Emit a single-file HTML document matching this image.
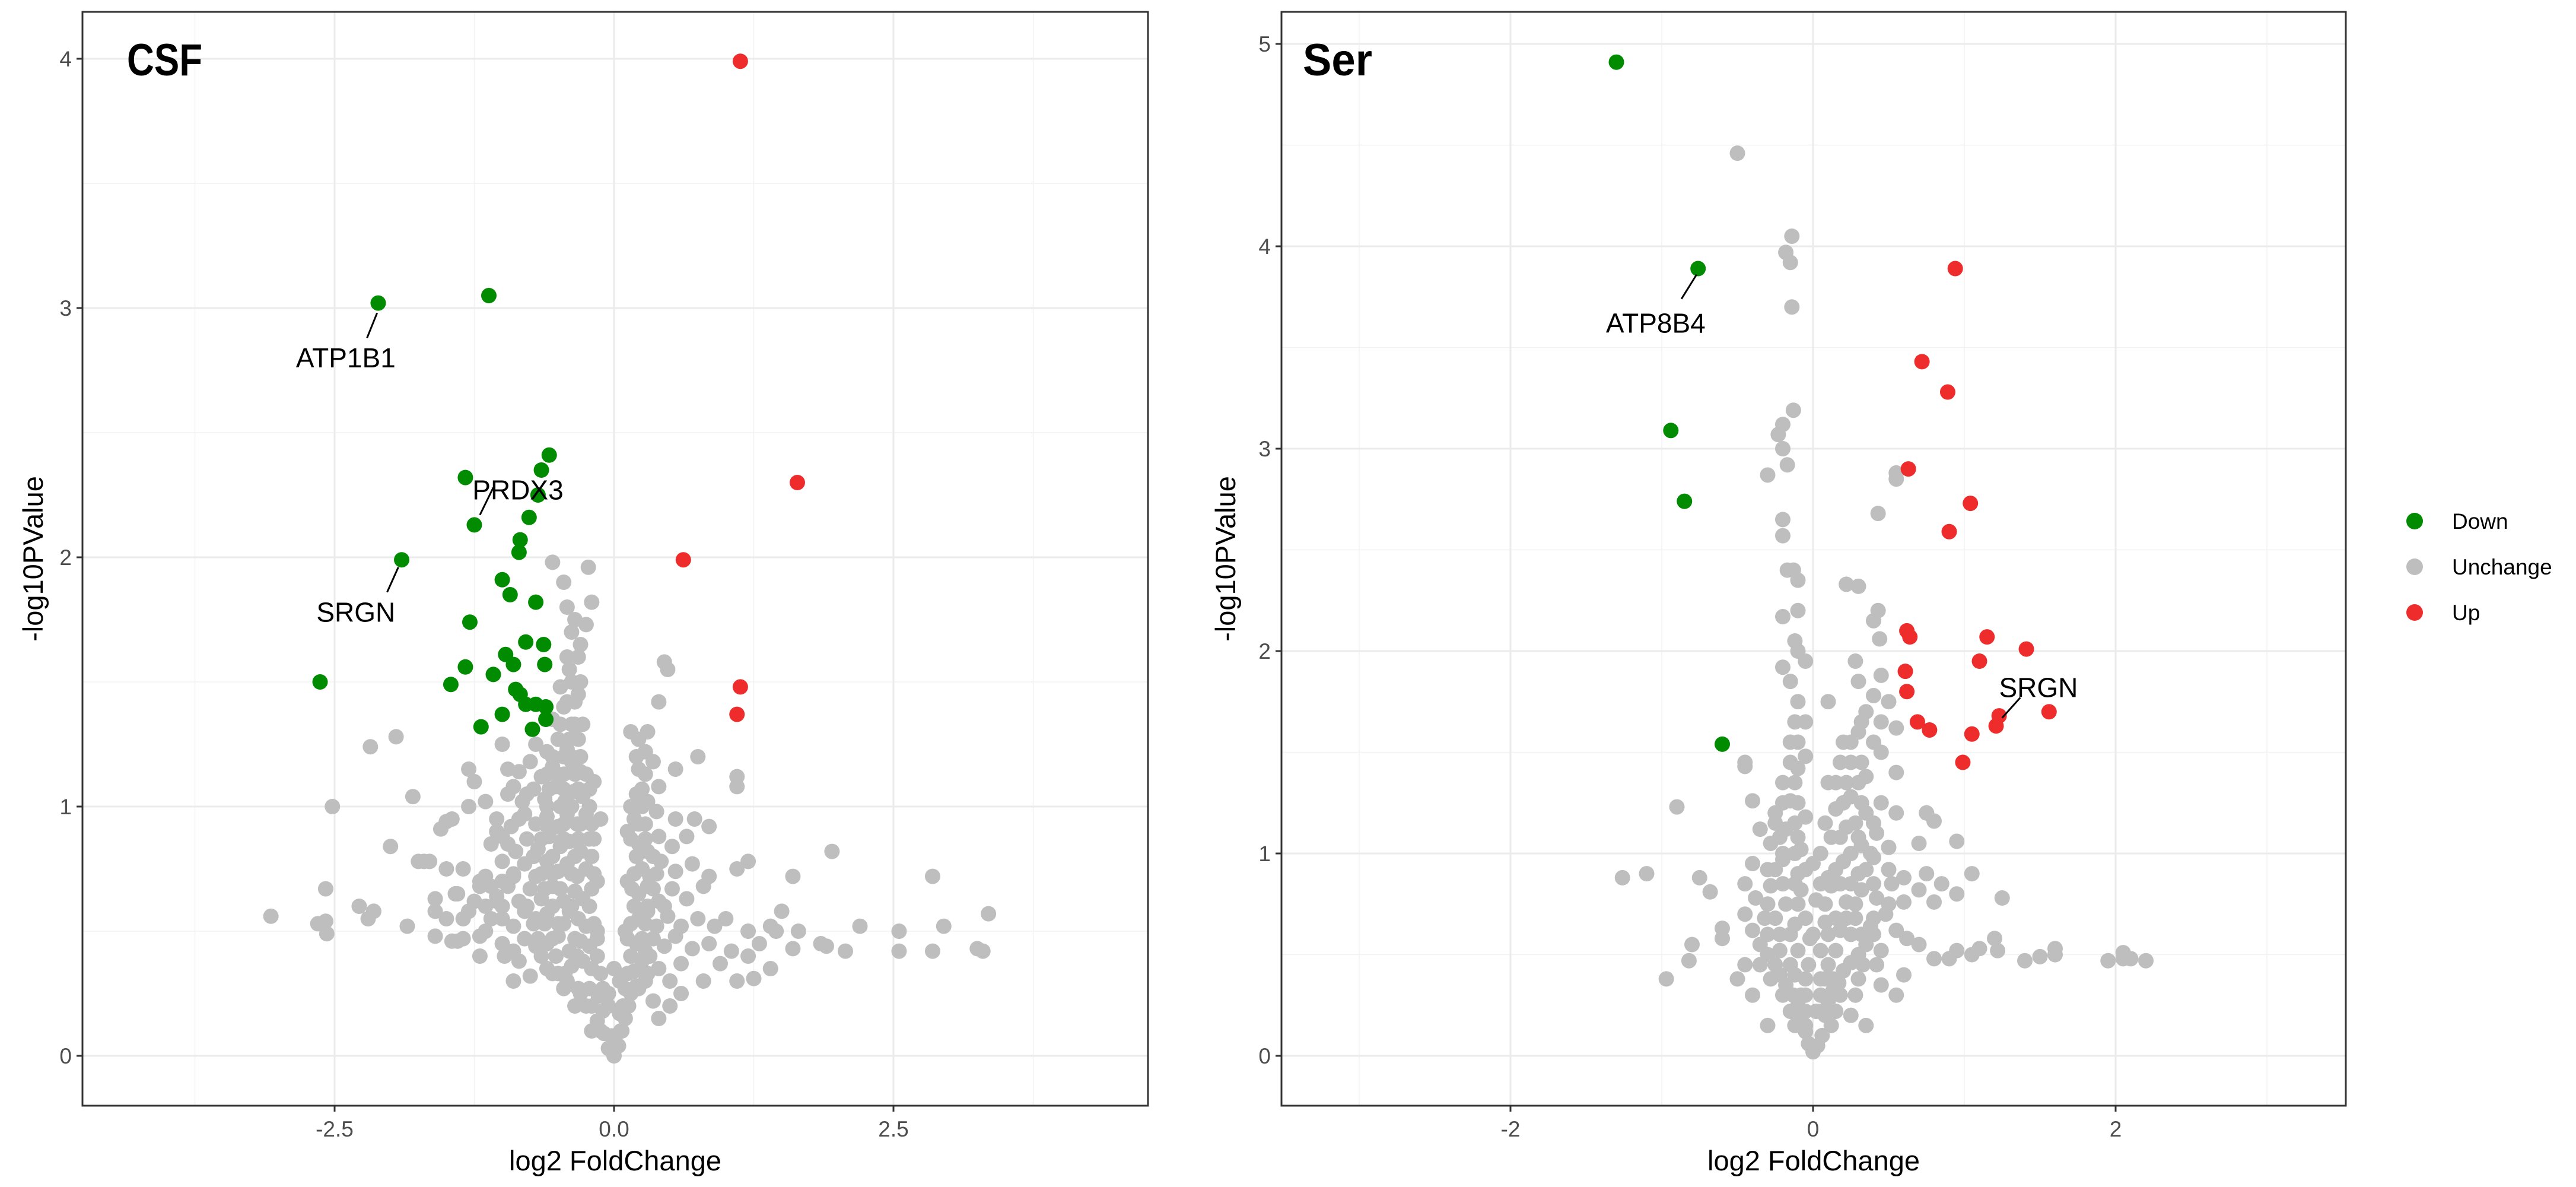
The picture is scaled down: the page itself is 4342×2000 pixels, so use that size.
<!DOCTYPE html>
<html><head><meta charset="utf-8"><style>
html,body{margin:0;padding:0;background:#fff}
svg{display:block;font-family:"Liberation Sans",Arial,sans-serif}
</style></head><body>
<svg id="chart" width="4342" height="2000" viewBox="0 0 4342 2000" xmlns="http://www.w3.org/2000/svg"></svg>
<script>
// ---------- CSF panel data ----------
const csfDown = [[-2.11,3.02],[-1.12,3.05],[-1.90,1.99],[-2.63,1.50],[-0.58,2.41],[-1.33,2.32],[-0.65,2.35],[-0.68,2.25],[-1.25,2.13],[-0.76,2.16],[-0.84,2.07],[-0.85,2.02],[-1.00,1.91],[-0.93,1.85],[-0.70,1.82],[-1.29,1.74],[-0.79,1.66],[-0.63,1.65],[-0.97,1.61],[-0.90,1.57],[-0.62,1.57],[-1.33,1.56],[-1.08,1.53],[-1.46,1.49],[-0.88,1.47],[-0.84,1.45],[-0.79,1.41],[-0.70,1.41],[-0.61,1.40],[-1.00,1.37],[-1.19,1.32],[-0.61,1.35],[-0.73,1.31]];
const csfUp = [[1.13,3.99],[1.64,2.30],[0.62,1.99],[1.13,1.48],[1.10,1.37]];
const csfGray = [
[-3.07,0.56],[-2.65,0.53],[-2.58,0.54],[-2.57,0.49],[-2.58,0.67],[-2.52,1.00],[-2.28,0.60],[-2.2,0.55],[-2.15,0.58],[-2.18,1.24],[-2.0,0.84],[-1.95,1.28],[-1.8,1.04],[-1.85,0.52],[-1.75,0.78],[-1.65,0.78],[-1.6,0.58],[-1.55,0.91],[-1.5,0.94],[-1.5,0.75],[-1.6,0.48],[-1.45,0.95],[-1.42,0.65],[-1.4,0.46],[-1.35,0.55],[-1.3,0.58],[-1.3,1.0],[-1.3,1.15],[-1.25,1.1],[-1.2,0.4],[-1.2,0.7],[-1.15,1.02],[-1.1,0.68],[-1.05,0.62],[-1.05,0.9],[-1.0,1.25],[-1.0,0.55],[-0.95,1.15],[-0.95,0.85],[-0.9,0.3],[-0.9,0.72],[-0.9,1.08],
[-0.05,0.03],[0,0.0],[0.04,0.04],[-0.02,0.08],[0.07,0.1],[-0.09,0.09],
[-0.15,0.14],[-0.1,0.18],[0.1,0.15],[0.13,0.2],[-0.2,0.2],[0.05,0.17],
[-0.3,0.25],[-0.22,0.27],[-0.14,0.24],[0.15,0.25],[0.2,0.28],[0.28,0.3],[-0.42,0.3],[0.35,0.22],
[-0.6,0.35],[-0.5,0.33],[-0.38,0.36],[-0.28,0.38],[-0.2,0.35],[0.18,0.34],[0.25,0.38],[0.4,0.35],[0.5,0.3],[0.6,0.37],[-0.75,0.32],[-0.85,0.38],
[-1.0,0.45],[-0.9,0.42],[-0.8,0.47],[-0.7,0.44],[-0.6,0.45],[-0.5,0.48],[-0.4,0.42],[-0.3,0.46],[-0.22,0.44],[0.2,0.45],[0.28,0.42],[0.35,0.47],[0.45,0.44],[0.55,0.48],[0.7,0.43],[0.85,0.45],[1.05,0.42],[-1.2,0.48],[-1.35,0.47],[-1.45,0.46],
[-1.5,0.55],[-1.3,0.58],[-1.1,0.55],[-1.0,0.6],[-0.9,0.52],[-0.8,0.58],[-0.7,0.55],[-0.6,0.57],[-0.5,0.53],[-0.4,0.58],[-0.32,0.55],[-0.25,0.52],[0.22,0.55],[0.3,0.58],[0.38,0.52],[0.48,0.56],[0.6,0.52],[0.75,0.55],[0.9,0.52],[1.0,0.55],[1.2,0.5],[1.4,0.52],
[-1.6,0.63],[-1.4,0.65],[-1.2,0.68],[-1.05,0.64],[-0.95,0.68],[-0.85,0.62],[-0.75,0.67],[-0.65,0.63],[-0.55,0.68],[-0.45,0.62],[-0.35,0.66],[-0.28,0.63],[0.22,0.65],[0.3,0.68],[0.4,0.62],[0.52,0.67],[0.65,0.63],[0.8,0.68],
[-1.7,0.78],[-1.35,0.75],[-1.15,0.72],[-1.0,0.78],[-0.9,0.73],[-0.8,0.77],[-0.7,0.72],[-0.6,0.78],[-0.5,0.74],[-0.42,0.77],[-0.33,0.72],[-0.25,0.75],[0.25,0.75],[0.32,0.72],[0.42,0.78],[0.55,0.74],[0.7,0.77],[0.85,0.72],
[-1.0,0.88],[-0.88,0.82],[-0.78,0.87],[-0.68,0.83],[-0.58,0.88],[-0.48,0.84],[-0.4,0.86],[-0.3,0.82],[-0.22,0.87],[0.22,0.85],[0.3,0.82],[0.4,0.88],[0.52,0.84],[0.65,0.88],
[-1.05,0.95],[-0.92,0.92],[-0.8,0.97],[-0.7,0.93],[-0.6,0.96],[-0.5,0.92],[-0.42,0.97],[-0.33,0.93],[-0.25,0.97],[0.18,0.95],[0.28,0.93],[0.38,0.98],[0.55,0.95],[0.72,0.95],
[-0.95,1.05],[-0.82,1.02],[-0.72,1.07],[-0.62,1.03],[-0.52,1.08],[-0.44,1.02],[-0.36,1.06],[-0.28,1.04],[0.2,1.05],[0.3,1.02],[0.4,1.08],
[-0.85,1.14],[-0.75,1.18],[-0.65,1.12],[-0.55,1.16],[-0.45,1.13],[-0.38,1.18],[-0.3,1.14],[0.22,1.15],[0.35,1.18],[0.55,1.15],
[-0.7,1.25],[-0.6,1.22],[-0.5,1.27],[-0.42,1.23],[-0.35,1.28],[0.15,1.3],[0.28,1.22],
[-0.55,1.35],[-0.45,1.4],[-0.38,1.33],[-0.32,1.45],[-0.48,1.48],[0.4,1.42],
[-0.4,1.55],[-0.32,1.6],[-0.38,1.7],[-0.35,1.75],[-0.42,1.8],[-0.25,1.73],[-0.2,1.82],[-0.55,1.98],[-0.45,1.9],[-0.23,1.96],[-0.3,1.65],[-0.42,1.6],[0.45,1.58],[0.48,1.55],
[1.1,1.12],[1.1,1.08],[0.85,0.92],[1.2,0.78],[1.1,0.75],[1.95,0.82],[1.6,0.72],[2.85,0.72],[2.2,0.52],[2.55,0.5],[2.55,0.42],[2.95,0.52],[2.85,0.42],[3.35,0.57],[3.3,0.42],[3.25,0.43],[1.85,0.45],[1.9,0.44],[2.07,0.42],[1.6,0.43],[1.45,0.5],[1.3,0.45],[1.2,0.4],[1.1,0.3],[1.25,0.31],[1.4,0.35],[0.95,0.37],[0.8,0.3],[0.6,0.25],[0.5,0.2],[0.4,0.15],[1.5,0.58],[1.65,0.5],[0.75,1.2],[0.3,1.3],[0.1,0.5],[0.12,0.7],[0.12,0.9],[-0.15,0.5],[-0.15,0.7],[-0.12,0.95],[-0.18,1.1],[0,0.35],[-0.05,0.25],[0.05,0.3]
];
const csfGrayCore = [
[-0.35,0.2],[-0.25,0.2],[-0.05,0.2],[0.08,0.2],
[-0.45,0.27],[-0.32,0.27],[-0.1,0.27],[0.1,0.27],[0.22,0.27],
[-0.55,0.33],[-0.44,0.33],[-0.12,0.33],[0.12,0.33],[0.3,0.33],
[-0.65,0.4],[-0.52,0.4],[-0.33,0.4],[-0.15,0.4],[0.15,0.4],[0.32,0.4],
[-0.68,0.47],[-0.55,0.47],[-0.35,0.47],[-0.15,0.47],[0.12,0.47],[0.25,0.47],
[-0.72,0.53],[-0.62,0.53],[-0.45,0.53],[-0.18,0.53],[0.15,0.53],[0.28,0.53],
[-0.78,0.6],[-0.55,0.6],[-0.38,0.6],[-0.22,0.6],[0.18,0.6],[0.3,0.6],[0.45,0.6],
[-0.62,0.67],[-0.48,0.67],[-0.2,0.67],[0.16,0.67],[0.35,0.67],
[-0.65,0.73],[-0.55,0.73],[-0.38,0.73],[-0.18,0.73],[0.18,0.73],[0.38,0.73],
[-0.72,0.8],[-0.55,0.8],[-0.35,0.8],[-0.2,0.8],[0.2,0.8],[0.35,0.8],
[-0.65,0.87],[-0.45,0.87],[-0.32,0.87],[-0.18,0.87],[0.15,0.87],[0.28,0.87],
[-0.62,0.93],[-0.45,0.93],[-0.3,0.93],[-0.2,0.93],[0.22,0.93],
[-0.6,1.0],[-0.48,1.0],[-0.38,1.0],[-0.22,1.0],[0.15,1.0],[0.25,1.0],
[-0.58,1.07],[-0.45,1.07],[-0.32,1.07],[-0.22,1.07],[0.25,1.07],
[-0.6,1.13],[-0.5,1.13],[-0.35,1.13],[-0.25,1.13],[0.28,1.13],
[-0.55,1.2],[-0.45,1.2],[-0.38,1.2],[-0.3,1.2],[0.2,1.2],
[-0.5,1.27],[-0.4,1.27],[-0.32,1.27],[0.22,1.27],
[-0.48,1.33],[-0.35,1.33],[-0.28,1.33],
[-0.42,1.42],[-0.35,1.42],[-0.38,1.5],[-0.3,1.5],
[-0.12,0.1],[0.06,0.1],[-0.2,0.1],[0.02,0.05],
[-1.25,0.62],[-1.15,0.5],[-1.1,0.85],[-0.98,0.4],[-1.0,0.7],[-1.15,0.6],[-0.85,0.95],[-0.78,1.05]
];
const csfLabels = [["ATP1B1",-2.40,2.80,-2.21,2.88,-2.12,2.98],["PRDX3",-0.86,2.27,-1.20,2.17,-1.08,2.28],["SRGN",-2.31,1.78,-2.03,1.86,-1.93,1.96]];
const csfXTicks = [-2.5,0,2.5];
const csfXTickLabels = ["-2.5","0.0","2.5"];
const csfYTicks = [0,1,2,3,4];

// ---------- Ser panel data ----------
const serDown = [[-1.30,4.91],[-0.76,3.89],[-0.94,3.09],[-0.85,2.74],[-0.60,1.54]];
const serUp = [[0.94,3.89],[0.72,3.43],[0.89,3.28],[0.63,2.90],[1.04,2.73],[0.90,2.59],[0.62,2.10],[0.64,2.07],[1.15,2.07],[1.41,2.01],[1.10,1.95],[0.61,1.90],[0.62,1.80],[1.56,1.70],[1.23,1.68],[1.21,1.63],[0.69,1.65],[0.77,1.61],[1.05,1.59],[0.99,1.45]];
const serGray = [
[0,0.02],[-0.03,0.06],[0.03,0.05],[-0.05,0.12],[0.06,0.1],[-0.08,0.18],[0.08,0.2],[-0.1,0.25],[0.1,0.27],[-0.13,0.3],[0.13,0.32],[-0.18,0.35],[0.17,0.36],[-0.22,0.4],[0.2,0.42],[-0.25,0.45],[0.25,0.46],[-0.3,0.5],[0.3,0.5],[-0.35,0.55],[0.35,0.55],[-0.4,0.62],[0.4,0.6],[-0.12,0.4],[0.08,0.38],[-0.05,0.3],[0.02,0.22],
[-0.32,0.68],[-0.22,0.6],[-0.12,0.65],[-0.02,0.58],[0.08,0.66],[0.18,0.62],[0.28,0.68],[0.38,0.64],[0.48,0.7],[0.55,0.62],[-0.45,0.7],[0.62,0.58],
[-0.38,0.78],[-0.28,0.84],[-0.18,0.75],[-0.08,0.82],[0.02,0.77],[0.12,0.84],[0.22,0.76],[0.32,0.82],[0.42,0.78],[0.52,0.85],[0.6,0.76],[0.7,0.82],[-0.45,0.85],
[-0.3,0.92],[-0.2,0.97],[-0.1,0.9],[0.0,0.95],[0.1,0.88],[0.2,0.96],[0.3,0.9],[0.4,0.98],[0.5,0.92],[0.6,0.88],[0.75,0.9],[0.85,0.85],[-0.4,0.95],
[-0.28,1.05],[-0.18,1.12],[-0.08,1.02],[0.12,1.08],[0.22,1.13],[0.32,1.04],[0.42,1.1],[0.5,1.03],[-0.35,1.12],
[-0.25,1.2],[-0.15,1.26],[-0.05,1.18],[0.15,1.22],[0.25,1.28],[0.35,1.2],[0.45,1.25],[0.55,1.2],[0.75,1.2],
[-0.2,1.35],[-0.1,1.42],[-0.05,1.48],[0.15,1.35],[0.25,1.45],[0.35,1.38],[0.45,1.5],[0.55,1.4],[-0.45,1.45],
[-0.15,1.55],[-0.05,1.65],[-0.1,1.75],[-0.15,1.85],[-0.05,1.95],[-0.2,1.92],[0.2,1.55],[0.3,1.6],[0.35,1.7],[0.4,1.78],[0.3,1.85],[0.45,1.88],[0.28,1.95],[0.5,1.75],[0.55,1.62],[0.1,1.75],[-0.1,2.0],[-0.12,2.05],
[-0.1,2.2],[-0.2,2.17],[-0.1,2.35],[-0.13,2.4],[-0.17,2.4],[0.22,2.33],[0.3,2.32],[0.43,2.2],[0.4,2.15],[0.44,2.06],[-0.2,2.57],[-0.2,2.65],[-0.3,2.87],[-0.17,2.92],[-0.2,3.0],[-0.23,3.07],[-0.2,3.12],[-0.13,3.19],[0.55,2.88],[0.55,2.85],[0.43,2.68],[-0.14,3.7],[-0.15,3.92],[-0.18,3.97],[-0.14,4.05],[-0.5,4.46],
[-1.26,0.88],[-1.1,0.9],[-0.75,0.88],[-0.68,0.81],[-0.9,1.23],[-0.97,0.38],[-0.82,0.47],[-0.8,0.55],[-0.6,0.58],[-0.6,0.63],[-0.45,1.43],[-0.4,1.26],[0.7,1.05],[0.75,1.2],[0.8,1.16],[0.95,1.06],[1.05,0.9],[0.95,0.8],[0.8,0.76],[1.25,0.78],[1.2,0.58],[1.22,0.52],[0.8,0.48],[0.9,0.48],[0.95,0.52],[1.05,0.5],[1.1,0.53],[1.4,0.47],[1.5,0.49],[1.6,0.53],[1.6,0.5],[1.95,0.47],[2.05,0.51],[2.1,0.48],[2.2,0.47],[2.05,0.48],[0.7,0.55],[0.6,0.4],[0.45,0.35],[0.55,0.3],[-0.5,0.38],[-0.45,0.45],[-0.3,0.15],[0.35,0.15],[0.25,0.2],[-0.4,0.3]
];
const serGrayCore = [
[-0.12,0.15],[0.12,0.15],[-0.05,0.15],
[-0.15,0.22],[0.15,0.22],[-0.05,0.22],[0.05,0.22],
[-0.2,0.3],[-0.08,0.3],[0.05,0.3],[0.18,0.3],[0.28,0.3],
[-0.28,0.38],[-0.05,0.38],[0.05,0.38],[0.13,0.38],[0.3,0.38],
[-0.35,0.45],[-0.15,0.45],[-0.03,0.45],[0.1,0.45],[0.33,0.45],[0.42,0.45],
[-0.22,0.52],[-0.1,0.52],[0.05,0.52],[0.15,0.52],[0.45,0.52],
[-0.3,0.6],[-0.15,0.6],[0.0,0.6],[0.1,0.6],[0.25,0.6],[0.32,0.6],
[-0.25,0.68],[-0.05,0.68],[0.15,0.68],[0.22,0.68],[0.4,0.68],
[-0.3,0.75],[-0.1,0.75],[0.08,0.75],[0.28,0.75],[0.5,0.75],
[-0.2,0.85],[-0.12,0.85],[0.05,0.85],[0.18,0.85],[0.25,0.85],[0.4,0.85],
[-0.25,0.92],[-0.05,0.92],[0.15,0.92],[0.35,0.92],
[-0.2,1.0],[-0.12,1.0],[0.05,1.0],[0.25,1.0],[0.38,1.0],
[-0.22,1.08],[-0.1,1.08],[0.18,1.08],[0.3,1.08],
[-0.25,1.15],[-0.12,1.15],[0.08,1.15],[0.28,1.15],[0.4,1.15],
[-0.2,1.25],[-0.1,1.25],[0.2,1.25],[0.32,1.25],
[-0.12,1.35],[0.1,1.35],[0.22,1.35],[0.3,1.35],
[-0.15,1.45],[0.18,1.45],[0.32,1.45],
[-0.1,1.55],[0.25,1.55],[0.4,1.55],
[-0.12,1.65],[0.32,1.65],[0.45,1.65]
];
const serLabels = [["ATP8B4",-1.04,3.62,-0.87,3.74,-0.77,3.86],["SRGN",1.49,1.82,1.37,1.77,1.25,1.67]];
const serXTicks = [-2,0,2];
const serXTickLabels = ["-2","0","2"];
const serYTicks = [0,1,2,3,4,5];

const legendKeys = ["Down","Unchange","Up"];
const COL = {Down:"#008B00",Unchange:"#BEBEBE",Up:"#EE2C2C"};
const NS = "http://www.w3.org/2000/svg";
const svg = document.getElementById('chart');
function mk(tag, attrs, parent){const e=document.createElementNS(NS,tag);for(const k in attrs)e.setAttribute(k,attrs[k]);(parent||svg).appendChild(e);return e;}

function panel(cfg){
  const g = mk('g',{});
  
  
  const sx = v => cfg.x0 + cfg.kx*v;
  const sy = v => cfg.y0 - cfg.ky*v;
  mk('rect',{x:cfg.L,y:cfg.T,width:cfg.R-cfg.L,height:cfg.B-cfg.T,fill:'#fff'},g);
  const grid = mk('g',{},g);
  
  
  const step = cfg.xTicks[1]-cfg.xTicks[0];
  for(let v=cfg.xTicks[0]-step*1.5; v<=cfg.xTicks[cfg.xTicks.length-1]+step*1.5; v+=step){
    const px=sx(v); if(px>cfg.L&&px<cfg.R) mk('line',{x1:px,x2:px,y1:cfg.T,y2:cfg.B,stroke:'#f2f2f2','stroke-width':1.5},grid);
  }
  for(let i=0;i<cfg.yTicks.length;i++){ const px=sy(cfg.yTicks[i]+0.5); if(px>cfg.T) mk('line',{x1:cfg.L,x2:cfg.R,y1:px,y2:px,stroke:'#f2f2f2','stroke-width':1.5},grid);}
  cfg.xTicks.forEach(v=>{const px=sx(v);mk('line',{x1:px,x2:px,y1:cfg.T,y2:cfg.B,stroke:'#ebebeb','stroke-width':3},grid);});
  cfg.yTicks.forEach(v=>{const py=sy(v);mk('line',{x1:cfg.L,x2:cfg.R,y1:py,y2:py,stroke:'#ebebeb','stroke-width':3},grid);});
  const pts = mk('g',{},g);
  
  
  const draw=(arr,cls)=>arr.forEach(p=>{
    const c=mk('circle',{cx:sx(p[0]),cy:sy(p[1]),r:13,fill:COL[cls]},pts);
    
    
  });
  draw(cfg.gray,'Unchange'); draw(cfg.down,'Down'); draw(cfg.up,'Up');
  cfg.labels.forEach(l=>{
    mk('line',{x1:sx(l[3]),y1:sy(l[4]),x2:sx(l[5]),y2:sy(l[6]),stroke:'#000','stroke-width':3},g);
    const t=mk('text',{x:sx(l[1]),y:sy(l[2])+16,'font-size':46,'text-anchor':'middle',fill:'#000'},g);
    t.textContent=l[0];
    
    
  });
  const fr=mk('rect',{x:cfg.L,y:cfg.T,width:cfg.R-cfg.L,height:cfg.B-cfg.T,fill:'none',stroke:'#333','stroke-width':3},g);
  
  
  cfg.xTicks.forEach((v,i)=>{
    const px=sx(v);
    mk('line',{x1:px,x2:px,y1:cfg.B,y2:cfg.B+10,stroke:'#333','stroke-width':3},g);
    const t=mk('text',{x:px,y:cfg.B+52,'font-size':37,'text-anchor':'middle',fill:'#4d4d4d'},g);
    t.textContent=cfg.xTickLabels[i];
    
    
  });
  cfg.yTicks.forEach(v=>{
    const py=sy(v);
    mk('line',{x1:cfg.L-10,x2:cfg.L,y1:py,y2:py,stroke:'#333','stroke-width':3},g);
    const t=mk('text',{x:cfg.L-18,y:py+13,'font-size':37,'text-anchor':'end',fill:'#4d4d4d'},g);
    t.textContent=String(v);
    
    
  });
  const xt=mk('text',{x:(cfg.L+cfg.R)/2,y:1972,'font-size':47,'text-anchor':'middle',fill:'#000'},g);
  xt.textContent='log2 FoldChange';
  
  
  const ym=(cfg.T+cfg.B)/2;
  const yt=mk('text',{x:cfg.ytx,y:ym,'font-size':47,'text-anchor':'middle',fill:'#000',transform:`rotate(-90 ${cfg.ytx} ${ym})`},g);
  yt.textContent='-log10PValue';
  
  
  const tt=mk('text',{x:cfg.titleX,y:127,'font-size':76,'font-weight':'bold',fill:'#000',textLength:cfg.titleW,lengthAdjust:'spacingAndGlyphs'},g);
  tt.textContent=cfg.title;
  
  
}

panel({name:'csf',title:'CSF',titleX:214,titleW:127,L:139,R:1935,T:20,B:1863,x0:1035,kx:188.4,y0:1779,ky:420,ytx:72,
  gray:csfGray.concat(csfGrayCore),down:csfDown,up:csfUp,labels:csfLabels,xTicks:csfXTicks,xTickLabels:csfXTickLabels,yTicks:csfYTicks});
panel({name:'ser',title:'Ser',titleX:2196,titleW:117,L:2160,R:3954,T:20,B:1863,x0:3056,kx:255,y0:1779,ky:341,ytx:2082,
  gray:serGray.concat(serGrayCore),down:serDown,up:serUp,labels:serLabels,xTicks:serXTicks,xTickLabels:serXTickLabels,yTicks:serYTicks});

// legend
const lg=mk('g',{});


legendKeys.forEach((k,i)=>{
  const y=878+i*77;
  const e=mk('g',{},lg);
  
  
  mk('circle',{cx:4070,cy:y,r:14,fill:COL[k]},e);
  const t=mk('text',{x:4133,y:y+13,'font-size':37,fill:'#000'},e);
  t.textContent=k;
});
</script>
</body></html>
